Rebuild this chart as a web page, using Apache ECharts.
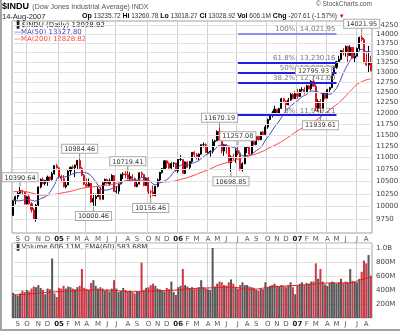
<!DOCTYPE html>
<html>
<head>
<meta charset="utf-8">
<script src="https://cdn.jsdelivr.net/npm/echarts/dist/echarts.min.js"></script>
<style>
  html, body { margin: 0; padding: 0; background: #fff; }
  #chart { width: 400px; height: 331px; }
</style>
</head>
<body>
<div id="chart"></div>
<script>
// Dow Jones Industrial Average, weekly bars (week ending Friday), Aug 2004 - Aug 2007
const firstWeekEnd = '2004-08-20';
const weekCount = 157;
const priorClose = 9825.22;

const closes = [
  10111,10195,10260,10314,10284,10047,10192,10055,9933,9757,10027,10387,10539,10456,10522,10592,10543,10661,10828,10783,
  10603,10558,10393,10427,10716,10796,10785,10841,10940,10774,10629,10442,10404,10461,10087,10157,10193,10345,10140,10471,
  10542,10460,10512,10623,10297,10303,10449,10640,10651,10640,10558,10600,10559,10397,10447,10678,10641,10419,10569,10292,
  10287,10215,10402,10530,10686,10766,10931,10877,10778,10875,10884,10718,
  10959,10959,10667,10907,10794,10919,11115,11061,11022,11076,11279,11280,11109,11120,11137,11347,11367,11577,11380,11144,
  11278,11247,10891,11014,10989,11150,11091,10739,10868,11219,11240,11077,11381,11284,11464,11393,11560,11508,11679,11850,
  11960,12002,12090,11986,12108,12342,12280,12194,12307,12445,12343,12463,
  12398,12556,12565,12487,12653,12581,12768,12647,12114,12276,12110,12481,12354,12560,12612,12961,13120,13264,13327,13556,
  13507,13668,13424,13639,13360,13409,13611,13907,13851,13265,13182,13239,13028.92
];
const highs = [
  10120,10210,10290,10390.64,10330,10290,10200,10240,10080,9970,10050,10400,10560,10580,10530,10620,10600,10700,10840,10868,
  10790,10640,10630,10490,10730,10810,10840,10850,10950,10984.46,10800,10650,10560,10560,10470,10260,10250,10390,10390,10490,
  10560,10560,10560,10650,10620,10400,10460,10660,10690,10710,10719.41,10690,10650,10580,10510,10690,10710,10650,10590,10590,
  10330,10420,10410,10560,10700,10780,10940,10940,10900,10900,10900,10880,
  10970,11050,10960,10920,10920,10930,11120,11140,11100,11090,11290,11330,11310,11240,11160,11400,11390,11600,11670.19,11390,
  11300,11290,11250,11050,11080,11200,11257.08,11110,10900,11240,11250,11240,11390,11390,11480,11500,11570,11590,11730,11870,
  11990,12050,12170,12090,12120,12360,12360,12300,12360,12480,12470,12520,
  12580,12580,12620,12620,12680,12680,12790,12795.93,12690,12330,12330,12490,12510,12580,12630,12970,13140,13290,13420,13560,
  13620,13690,13680,13700,13650,13500,13640,13930,14021.95,13900,13480,13680,13420
];
const lows = [
  9820,10040,10140,10230,10230,10040,10040,10040,9880,9750,9708,10000,10360,10440,10420,10410,10480,10520,10640,10770,
  10560,10480,10380,10360,10450,10640,10740,10590,10760,10760,10610,10420,10400,10390,10070,10000.46,10010,10190,10120,10140,
  10430,10440,10410,10500,10290,10260,10230,10440,10550,10570,10540,10520,10500,10390,10380,10440,10580,10400,10410,10230,
  10156.46,10200,10200,10380,10500,10660,10760,10780,10740,10760,10800,10710,
  10680,10930,10660,10650,10780,10740,10890,10990,10960,10950,11060,11220,11100,11090,11020,11090,11250,11360,11370,11090,
  11040,11080,10880,10698.85,10950,10890,11050,10720,10705,10860,11100,11060,11070,11260,11270,11370,11380,11480,11500,11640,
  11830,11900,11980,11950,11960,12100,12250,12050,12180,12290,12330,12400,
  12340,12380,12510,12450,12480,12560,12540,12630,12050,12040,11939.61,12100,12320,12350,12500,12600,12900,13080,13230,13300,
  13430,13400,13260,13420,13350,13250,13400,13550,13800,13220,13150,13000,13018.27
];

// heaviest daily volume per week, millions of shares
const volumes = [
  360,330,320,350,390,370,400,380,420,450,440,470,430,400,340,420,410,850,350,300,
  430,420,460,420,450,440,420,410,440,460,700,430,410,400,500,540,460,420,440,420,
  390,410,380,420,540,420,370,390,430,400,380,390,370,350,380,380,790,400,430,440,
  470,490,460,420,410,400,380,430,410,520,370,330,
  440,460,700,470,450,430,440,410,430,440,540,440,420,410,400,1000,450,490,520,510,
  470,460,510,550,490,440,420,470,510,470,470,450,440,430,400,390,420,410,510,430,
  460,470,490,460,450,470,460,440,470,510,440,340,
  460,490,510,470,500,490,520,520,780,560,700,520,480,460,500,520,510,490,510,560,
  500,520,510,700,530,520,510,560,660,820,780,900,606.11
];

// moving averages: [week index, value]
const ma50Points = [
  [0,10142],[2,10109],[4,10120],[6,10133],[8,10122],[10,10106],[12,10154],[14,10192],[16,10281],[18,10431],
  [20,10591],[22,10594],[24,10610],[26,10655],[28,10684],[30,10686],[32,10675],[34,10616],[36,10493],[38,10363],
  [40,10324],[42,10337],[44,10374],[46,10414],[48,10495],[50,10513],[52,10532],[54,10524],[56,10581],[58,10551],
  [60,10489],[62,10435],[64,10472],[66,10510],[68,10576],[70,10694],[72,10800],[74,10841],[76,10842],[78,10880],
  [80,10912],[82,10980],[84,11056],[86,11112],[88,11180],[90,11267],[92,11274],[94,11249],[96,11223],[98,11176],
  [100,11041],[102,11045],[104,11077],[106,11151],[108,11223],[110,11381],[112,11516],[114,11679],[116,11814],[118,11981],
  [120,12112],[122,12210],[124,12287],[126,12389],[128,12441],[130,12526],[132,12523],[134,12476],[136,12447],[138,12450],
  [140,12524],[142,12707],[144,12974],[146,13200],[148,13383],[150,13477],[152,13593],[154,13532],[156,13527.80]
];
const ma200Points = [
  [0,10290],[4,10298],[8,10267],[12,10226],[17,10234],[21,10265],[26,10310],[30,10361],[34,10385],[38,10409],
  [43,10439],[47,10484],[51,10523],[56,10524],[60,10504],[65,10491],[69,10499],[73,10541],[78,10611],[82,10686],
  [86,10762],[90,10846],[95,10917],[99,10982],[104,11052],[108,11119],[112,11218],[117,11347],[121,11483],[125,11623],
  [130,11763],[134,11904],[138,12075],[143,12293],[147,12522],[151,12729],[156,12828.82]
];
const volEmaPoints = [
  [0,330],[8,345],[17,370],[26,385],[34,400],[43,395],[51,375],[60,385],[69,395],[78,420],
  [86,430],[95,440],[104,410],[112,440],[121,460],[130,480],[138,500],[147,500],[151,540],[156,583.68]
];

// price axis ticks
const priceTicks = [9750,10000,10250,10500,10750,11000,11250,11500,11750,12000,12250,12500,12750,13000,13250,13500,13750,14000,14250];
const monthLetters = ['J','F','M','A','M','J','J','A','S','O','N','D'];

// peak / trough call-outs: week index, value, side
const calloutWeeks = [3, 29, 35, 50, 60, 90, 95, 98, 131, 134, 152];
const calloutValues = [10390.64, 10984.46, 10000.46, 10719.41, 10156.46, 11670.19, 10698.85, 11257.08, 12795.93, 11939.61, 14021.95];
const calloutSides = ['hi','hi','lo','hi','lo','hi','lo','hi','hi','lo','hi'];

// Fibonacci retracement drawn between two weeks
const fibStartWeek = 98;
const fibEndWeek = 141;
const fibLabels = ['100%', '61.8%', '50%', '38.2%', '0%'];
const fibValues = [14021.95, 13230.16, 12985.58, 12741.00, 11949.21];

// ---------------------------------------------------------------
const weeks = [];
{
  const t0 = Date.parse(firstWeekEnd + 'T00:00:00Z');
  for (let i = 0; i < weekCount; i++) {
    weeks.push(new Date(t0 + i * 7 * 86400000).toISOString().slice(0, 10));
  }
}
const monthOf = (s) => +s.slice(5, 7) - 1;
const monthStart = new Set();
const quarterStart = new Set();
weeks.forEach((w, i) => {
  if (i > 0 && monthOf(w) !== monthOf(weeks[i - 1])) {
    monthStart.add(i);
    if (monthOf(w) % 3 === 0) quarterStart.add(i);
  }
});
const monthLabel = (v) => {
  const m = monthOf(v);
  return m === 0 ? '{y|' + v.slice(2, 4) + '}' : monthLetters[m];
};

const candles = closes.map((c, i) => {
  const o = i === 0 ? priorClose : closes[i - 1];
  return [o, c, lows[i], highs[i]];
});
const UP = '#000000', DOWN = '#e0101a';
const volumeBars = volumes.map((v, i) => {
  const prev = i === 0 ? priorClose : closes[i - 1];
  return { value: v, itemStyle: { color: closes[i] < prev ? '#c9283a' : '#4a4a4a' } };
});

const FONT = 'DejaVu Sans';
const SANS = 'Liberation Sans';
const fmt2 = (v) => v.toFixed(2);
const fmtComma = (v) => v.toLocaleString('en-US', { minimumFractionDigits: 2, maximumFractionDigits: 2 });

const callouts = calloutWeeks.map((w, i) => {
  const hi = calloutSides[i] === 'hi';
  return {
    coord: [w, calloutValues[i]],
    symbol: 'rect',
    symbolSize: [1, 5],
    symbolOffset: [0, hi ? -3 : 3],
    itemStyle: { color: '#888' },
    label: {
      show: true,
      position: hi ? 'top' : 'bottom',
      distance: 0,
      formatter: fmt2(calloutValues[i]),
      fontFamily: FONT, fontSize: 6.5, color: '#333',
      backgroundColor: '#fff', borderColor: '#aaa', borderWidth: 1,
      padding: [1, 2, 0, 2]
    }
  };
});

const xAxisCommon = (grid) => ({
  type: 'category', gridIndex: grid, data: weeks, boundaryGap: true,
  axisLine: { show: false }, axisTick: { show: false },
  axisLabel: {
    interval: (i) => monthStart.has(i),
    formatter: monthLabel,
    fontFamily: FONT, fontSize: 7, color: '#555', margin: 3,
    rich: { y: { fontFamily: FONT, fontSize: 7, fontWeight: 'bold', color: '#222' } }
  },
  splitLine: { show: true, interval: (i) => quarterStart.has(i), lineStyle: { color: '#cfcfcf', width: 1 } }
});

const chart = echarts.init(document.getElementById('chart'), null, { renderer: 'canvas' });
chart.setOption({
  animation: false,
  backgroundColor: '#fff',
  grid: [
    { left: 12, top: 21, width: 360, height: 212, show: true, borderColor: '#a0a0a0', borderWidth: 1, backgroundColor: 'transparent' },
    { left: 12, top: 243, width: 360, height: 75, show: true, borderColor: '#a0a0a0', borderWidth: 1, backgroundColor: 'transparent' }
  ],
  xAxis: [xAxisCommon(0), xAxisCommon(1)],
  yAxis: [
    { type: 'log', gridIndex: 0, min: 9495, max: 14362, position: 'right',
      axisLabel: { show: false }, axisLine: { show: false }, axisTick: { show: false }, splitLine: { show: false } },
    { type: 'value', gridIndex: 1, min: 0, max: 1071, interval: 200, position: 'right',
      axisLine: { show: false }, axisTick: { show: false },
      axisLabel: { showMinLabel: false, showMaxLabel: false, fontFamily: FONT, fontSize: 7, color: '#444', margin: 4,
        formatter: (v) => v >= 1000 ? (v / 1000).toFixed(1) + 'B' : v + 'M' },
      splitLine: { lineStyle: { color: '#e2e2e2' } } }
  ],
  series: [
    { // horizontal price grid with its right-hand labels
      type: 'line', xAxisIndex: 0, yAxisIndex: 0, data: [], z: 1, silent: true,
      markLine: {
        silent: true, symbol: ['none', 'none'],
        lineStyle: { color: '#e2e2e2', width: 1, type: 'solid' },
        label: { position: 'end', distance: 4, fontFamily: FONT, fontSize: 7, color: '#444', formatter: (p) => String(p.value) },
        emphasis: { disabled: true },
        data: priceTicks.map((v) => ({ yAxis: v }))
      }
    },
    {
      name: '$INDU', type: 'candlestick', xAxisIndex: 0, yAxisIndex: 0, z: 3,
      barWidth: 1.6,
      itemStyle: { color: UP, color0: DOWN, borderColor: UP, borderColor0: DOWN, borderWidth: 1 },
      data: candles,
      markPoint: { silent: true, animation: false, data: callouts }
    },
    {
      name: 'MA(200)', type: 'line', xAxisIndex: 0, yAxisIndex: 0, z: 4, smooth: true, showSymbol: false,
      lineStyle: { color: '#ff4646', width: 1 }, data: ma200Points
    },
    {
      name: 'MA(50)', type: 'line', xAxisIndex: 0, yAxisIndex: 0, z: 4, smooth: true, showSymbol: false,
      lineStyle: { color: '#4545b8', width: 1 }, data: ma50Points
    },
    { // Fibonacci retracement levels
      type: 'line', xAxisIndex: 0, yAxisIndex: 0, data: [], z: 5, silent: true,
      markLine: {
        silent: true, symbol: ['none', 'none'],
        emphasis: { disabled: true },
        data: fibValues.map((v, i) => [
          { coord: [fibStartWeek, v],
            lineStyle: { color: i === 0 ? '#8f8ff0' : '#1f1fe6', width: 2, type: 'solid' },
            label: { show: true, position: 'insideEndTop', distance: 1, formatter: fibLabels[i] + ': ' + fmtComma(v),
              fontFamily: FONT, fontSize: 7, color: '#777' } },
          { coord: [fibEndWeek, v] }
        ])
      }
    },
    {
      name: 'Volume', type: 'bar', xAxisIndex: 1, yAxisIndex: 1, z: 2, barCategoryGap: '12%',
      itemStyle: { opacity: 0.92 }, data: volumeBars
    },
    {
      name: 'EMA(60)', type: 'line', xAxisIndex: 1, yAxisIndex: 1, z: 4, smooth: true, showSymbol: false,
      lineStyle: { color: '#f01818', width: 1 }, data: volEmaPoints
    }
  ],
  graphic: [
    { type: 'rect', left: 0, top: 0, shape: { width: 2, height: 331 }, style: { fill: '#a4a4a4' } },
    { type: 'rect', left: 0, top: 329, shape: { width: 400, height: 2 }, style: { fill: '#a4a4a4' } },
    { type: 'text', left: 2, top: 1, style: {
        text: '{b|$INDU} {g|(Dow Jones Industrial Average) INDX}',
        rich: { b: { fontFamily: SANS, fontSize: 9, fontWeight: 'bold', fill: '#000' },
                g: { fontFamily: SANS, fontSize: 7, fill: '#555' } } } },
    { type: 'text', left: 2, top: 13, style: { text: '14-Aug-2007', fontFamily: SANS, fontSize: 7.5, fill: '#222' } },
    { type: 'text', left: 82, top: 13, style: {
        text: '{k|Op} 13235.72 {k|Hi} 13260.78 {k|Lo} 13018.27 {k|Cl} 13028.92 {k|Vol} 606.1M {k|Chg} -207.61 (-1.57%) {r|▼}',
        fontFamily: SANS, fontSize: 6.5, fill: '#333',
        rich: { k: { fontFamily: SANS, fontSize: 7, fontWeight: 'bold', fill: '#000' },
                r: { fontFamily: SANS, fontSize: 6, fill: '#e00' } } } },
    { type: 'text', right: 28, top: 1, style: { text: '© StockCharts.com', fontFamily: SANS, fontSize: 6.5, fill: '#555' } },
    { type: 'text', left: 14, top: 22, style: { text: '\u2590 $INDU (Daily) 13028.92', fontFamily: FONT, fontSize: 7, fill: '#222' } },
    { type: 'text', left: 14, top: 29, style: { text: '\u2014MA(50) 13527.80', fontFamily: FONT, fontSize: 7, fill: '#4545b8' } },
    { type: 'text', left: 14, top: 36, style: { text: '\u2014MA(200) 12828.82', fontFamily: FONT, fontSize: 7, fill: '#ff4646' } },
    { type: 'text', left: 14, top: 244, style: { text: '\u2590 Volume 606.11M, EMA(60) 583.68M', fontFamily: FONT, fontSize: 7, fill: '#333' } }
  ]
});
</script>
</body>
</html>
